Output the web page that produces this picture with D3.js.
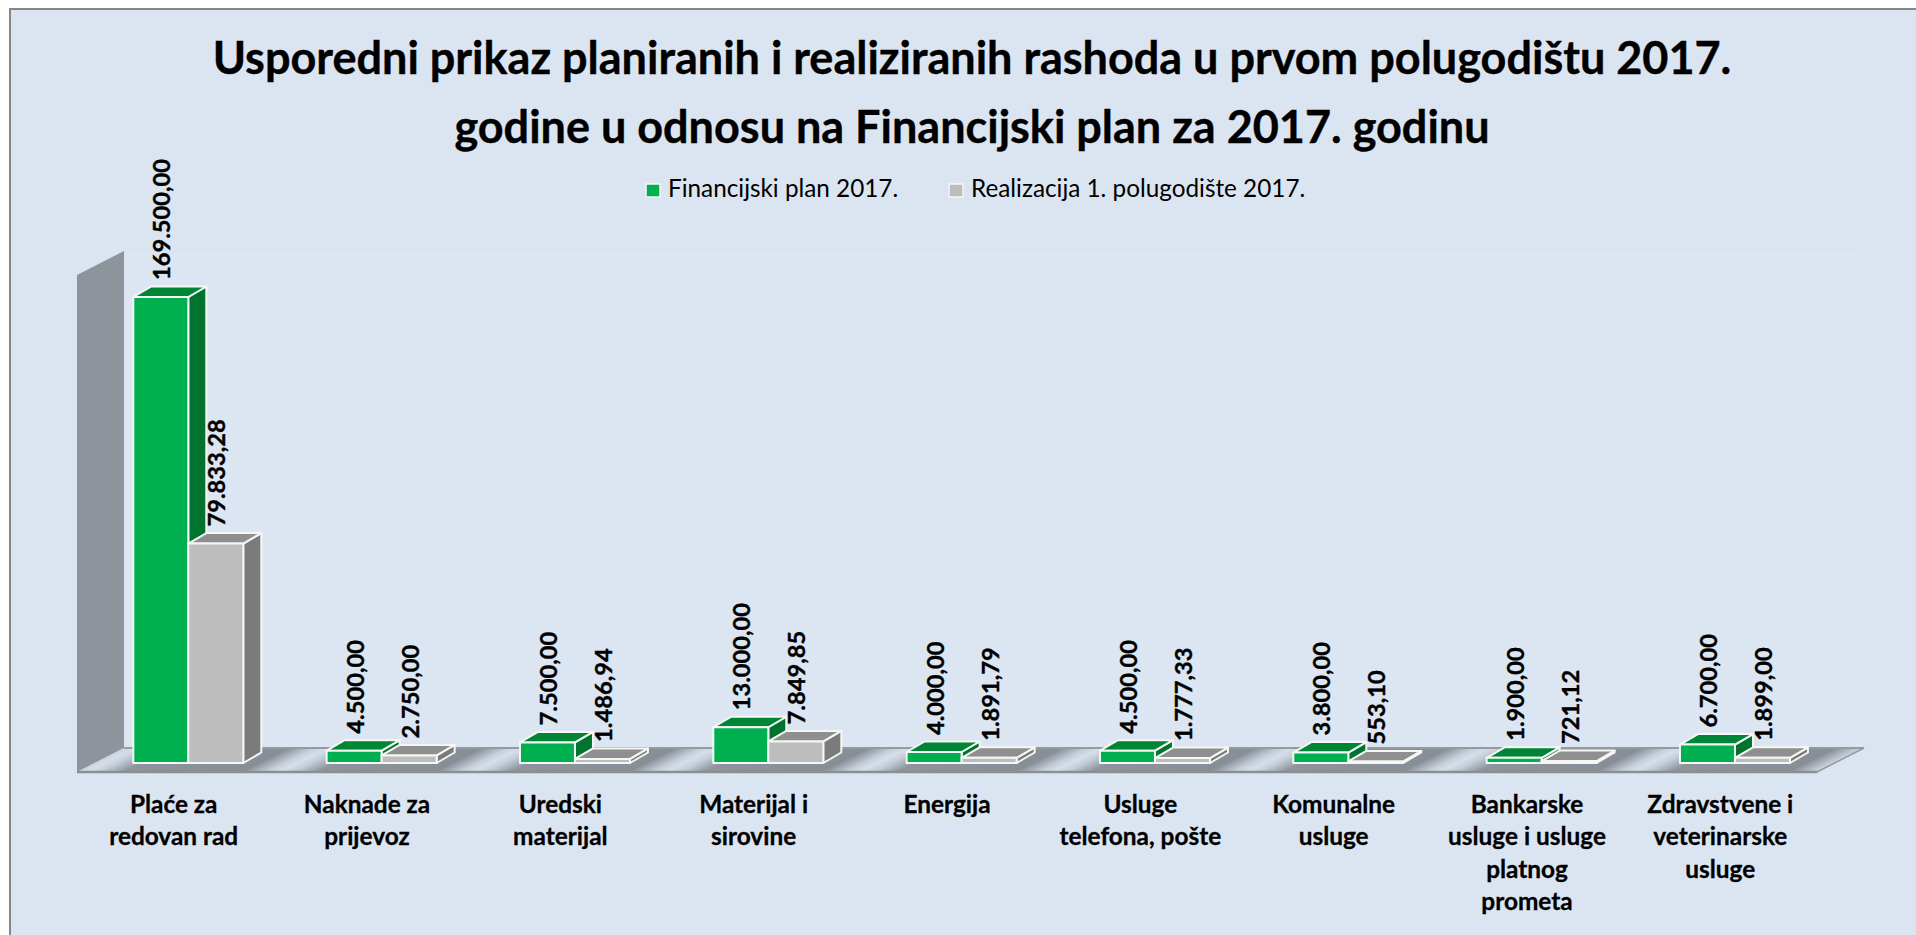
<!DOCTYPE html>
<html>
<head>
<meta charset="utf-8">
<script src="https://cdn.jsdelivr.net/npm/d3@7"></script>
<style>
  html, body { margin: 0; padding: 0; background: #fff; overflow: hidden; }
  svg { display: block; }
  text { font-family: Lato, "Open Sans", sans-serif; fill: #000; }
</style>
</head>
<body>
<div id="chart"></div>
<script>
const titleLines = [
  "Usporedni prikaz planiranih i realiziranih rashoda u prvom polugodištu 2017.",
  "godine u odnosu na Financijski plan za 2017. godinu"
];
const seriesNames = ["Financijski plan 2017.", "Realizacija 1. polugodište 2017."];
const categoryLines = [
  ["Plaće za", "redovan rad"],
  ["Naknade za", "prijevoz"],
  ["Uredski", "materijal"],
  ["Materijal i", "sirovine"],
  ["Energija"],
  ["Usluge", "telefona, pošte"],
  ["Komunalne", "usluge"],
  ["Bankarske", "usluge i usluge", "platnog", "prometa"],
  ["Zdravstvene i", "veterinarske", "usluge"]
];
const planValues = [169500, 4500, 7500, 13000, 4000, 4500, 3800, 1900, 6700];
const realValues = [79833.28, 2750, 1486.94, 7849.85, 1891.79, 1777.33, 553.10, 721.12, 1899];

const width = 1916, height = 935;

// floor and walls of the 3D box
const floor = {left: 77, right: 1817, front: 772, back: 748, dx: 47};
const wallTop = 275, wallDy = 24;
// depth of the bars
const depthX = 18, depthY = 10.5;

const svg = d3.select("#chart").append("svg")
  .attr("width", width)
  .attr("height", height);

const defs = svg.append("defs");

// background with only top and left border, the chart runs off the picture
svg.append("rect")
  .attr("x", 10).attr("y", 9)
  .attr("width", width).attr("height", height)
  .attr("fill", "#dbe5f1")
  .attr("stroke", "#868686")
  .attr("stroke-width", 2);

const x = d3.scaleBand()
  .domain(d3.range(categoryLines.length))
  .range([floor.left, floor.right]);

const x1 = d3.scaleBand()
  .domain(d3.range(seriesNames.length))
  .range([56.3, 56.3 + 110]);

const y = d3.scaleLinear()
  .domain([0, 169500])
  .range([763, 297]);

const fmt = d3.formatLocale({decimal: ",", thousands: ".", grouping: [3], currency: ["", ""]}).format(",.2f");

const styles = [
  {front: "#00b050", side: "#00732f", top: "#008537"},
  {front: "#bdbdbd", side: "#7b7b7b", top: "#8f8f8f"}
];

// repeating diagonal stripes on the floor, one period per category
const a = x.step() / 5;
const stripes = defs.append("linearGradient")
  .attr("id", "floorStripes")
  .attr("gradientUnits", "userSpaceOnUse")
  .attr("spreadMethod", "repeat")
  .attr("x1", x(1) + 33).attr("y1", 760)
  .attr("x2", x(1) + 33 + a).attr("y2", 760 + 2 * a);
[[0, "#d5dee9"], [0.07, "#c4cdd8"], [0.2, "#8d949c"], [0.8, "#888e96"], [0.93, "#c4cdd8"], [1, "#d5dee9"]]
  .forEach(s => stripes.append("stop").attr("offset", s[0]).attr("stop-color", s[1]));

// back wall
svg.append("rect")
  .attr("x", floor.left + floor.dx).attr("y", wallTop - wallDy)
  .attr("width", floor.right - floor.left).attr("height", floor.back - wallTop + wallDy)
  .attr("fill", "#dce6f2")
  .attr("stroke", "#d8e2ee");

// left wall
svg.append("polygon")
  .attr("points", [
    [floor.left, floor.front], [floor.left, wallTop],
    [floor.left + floor.dx, wallTop - wallDy], [floor.left + floor.dx, floor.back]
  ].join(" "))
  .attr("fill", "#8d949c");

// floor
svg.append("polygon")
  .attr("points", [
    [floor.left + floor.dx, floor.back], [floor.right + floor.dx + 1, floor.back],
    [floor.right, floor.front], [floor.left, floor.front]
  ].join(" "))
  .attr("fill", "url(#floorStripes)");

svg.append("line")
  .attr("x1", floor.left + floor.dx).attr("x2", floor.right + floor.dx)
  .attr("y1", floor.back).attr("y2", floor.back)
  .attr("stroke", "#959a9f").attr("stroke-width", 2);
svg.append("line")
  .attr("x1", floor.left).attr("x2", floor.right)
  .attr("y1", floor.front).attr("y2", floor.front)
  .attr("stroke", "#8c8f92").attr("stroke-width", 2.5);
svg.append("line")
  .attr("x1", floor.right).attr("x2", floor.right + floor.dx)
  .attr("y1", floor.front).attr("y2", floor.back)
  .attr("stroke", "#959a9f").attr("stroke-width", 1.5);

// bars, the plan first so the realised bar lies over its side
const bars = [];
categoryLines.forEach((c, i) => {
  [planValues[i], realValues[i]].forEach((v, s) => bars.push({i, s, v}));
});

const barW = x1.bandwidth();

const bar = svg.selectAll(".bar")
  .data(bars)
  .enter()
  .append("g")
  .attr("class", "bar")
  .attr("stroke", "#f4f7f4")
  .attr("stroke-width", 2)
  .attr("stroke-linejoin", "round");

bar.append("polygon")
  .attr("fill", d => styles[d.s].side)
  .attr("points", d => {
    const r = x(d.i) + x1(d.s) + barW;
    return [[r, y(0)], [r, y(d.v)], [r + depthX, y(d.v) - depthY], [r + depthX, y(0) - depthY]].join(" ");
  });

bar.append("polygon")
  .attr("fill", d => styles[d.s].top)
  .attr("points", d => {
    const l = x(d.i) + x1(d.s), t = y(d.v);
    return [[l, t], [l + barW, t], [l + barW + depthX, t - depthY], [l + depthX, t - depthY]].join(" ");
  });

bar.append("rect")
  .attr("fill", d => styles[d.s].front)
  .attr("x", d => x(d.i) + x1(d.s))
  .attr("y", d => y(d.v))
  .attr("width", barW)
  .attr("height", d => y(0) - y(d.v));

// value labels
svg.selectAll(".value")
  .data(bars)
  .enter()
  .append("text")
  .attr("class", "value")
  .attr("transform", d => "translate(" + (x(d.i) + x1(d.s) + barW / 2 + 9.5) + "," + (y(d.v) - 17) + ") rotate(-90)")
  .style("font-size", "23.7px")
  .style("font-weight", 700)
  .style("stroke", "#000")
  .style("stroke-width", 0.4)
  .text(d => fmt(d.v));

// category labels
svg.selectAll(".cat")
  .data(categoryLines)
  .enter()
  .append("text")
  .attr("class", "cat")
  .attr("text-anchor", "middle")
  .style("font-size", "24.4px")
  .style("font-weight", 700)
  .style("stroke", "#000")
  .style("stroke-width", 0.3)
  .each(function(lines, i) {
    d3.select(this).selectAll("tspan")
      .data(lines)
      .enter()
      .append("tspan")
      .attr("x", x(i) + x.bandwidth() / 2)
      .attr("y", (d, k) => 813 + k * 32.4)
      .text(d => d);
  });

// title
svg.selectAll(".title")
  .data(titleLines)
  .enter()
  .append("text")
  .attr("class", "title")
  .attr("text-anchor", "middle")
  .attr("x", 972)
  .attr("y", (d, i) => 74 + i * 69)
  .style("font-size", "45px")
  .style("font-weight", 700)
  .style("stroke", "#000")
  .style("stroke-width", 0.4)
  .text(d => d);

// legend
const legendX = [646, 949];
const legend = svg.selectAll(".legend")
  .data(seriesNames)
  .enter()
  .append("g")
  .attr("class", "legend");

legend.append("rect")
  .attr("x", (d, i) => legendX[i]).attr("y", 184)
  .attr("width", 14).attr("height", 13)
  .attr("fill", (d, i) => styles[i].front)
  .attr("stroke", "#f4f7f4")
  .attr("stroke-width", 1.5);

legend.append("text")
  .attr("x", (d, i) => legendX[i] + 22)
  .attr("y", 197)
  .style("font-size", "24.3px")
  .text(d => d);
</script>
</body>
</html>
